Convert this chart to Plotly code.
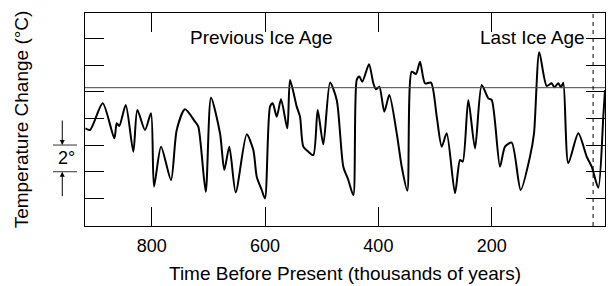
import plotly.graph_objects as go

# Time before present (thousands of years) and temperature change (deg C, ticks every 2 deg)
years = [917, 908.9, 886.5, 866.0, 861.8, 857.2, 845.9, 832.5, 825.4, 811.9,
         801.3, 796.0, 783.6, 766.0, 755.9, 741.3, 723.6, 717.8, 704.7, 695.4,
         679.5, 671.9, 663.1, 651.8, 632.4, 620.7, 614.7, 605.9, 600.1, 591.2,
         586.5, 579.4, 571.8, 560.7, 555.9, 544.1, 538.3, 532.5, 523.6, 514.8,
         507.1, 497.2, 485.3, 473.5, 461.9, 453.0, 444.2, 438.2, 433.6, 428.3,
         416.5, 408.9, 404.2, 398.3, 389.5, 380.7, 367.6, 358.8, 348.9, 341.2,
         333.6, 326.5, 317.7, 307.1, 297.0, 288.2, 279.4, 264.7, 255.9, 251.1,
         241.3, 229.4, 217.6, 206.0, 200.0, 185.3, 176.5, 164.7, 148.8, 132.4,
         125.3, 116.0, 102.9, 94.1, 89.5, 82.4, 77.7, 73.6, 64.8, 47.1,
         32.3, 23.5, 11.8, 3.0, 0.0]
temp = [-2.75, -2.87, -0.87, -3.50, -2.37, -2.57, -1.00, -4.50, -1.37, -2.87,
        -1.62, -7.12, -4.12, -6.62, -2.87, -1.32, -2.25, -2.62, -7.50, -0.45,
        -3.12, -5.87, -4.12, -7.55, -3.20, -4.37, -6.37, -7.37, -8.00, -1.12,
        -0.87, -1.87, -0.57, -2.75, 0.88, -1.12, -1.87, -4.12, -4.50, -4.75,
        -1.37, -3.95, 0.68, -0.62, -5.62, -6.62, -7.75, 0.88, 1.13, 0.75,
        2.06, 0.63, 0.18, 0.38, -1.50, -0.25, -3.12, -5.62, -7.42, 1.50,
        1.33, 2.25, 0.63, 0.68, -1.87, -4.12, -3.12, -7.62, -5.12, -5.25,
        -0.62, -4.25, 0.50, -0.50, -0.62, -5.62, -4.12, -3.82, -7.37, -4.87,
        -3.12, 2.96, 0.43, 0.63, 0.33, 0.63, 0.33, 0.68, -5.37, -3.12,
        -4.87, -5.62, -7.20, -1.87, 0.13]

x_ticks = [800, 600, 400, 200, 0]
x_tick_labels = ["800", "600", "400", "200", "0"]
y_ticks = [-8, -6, -4, -2, 0, 2, 4]
present_level = 0.3
dashed_year = 21
scale_low, scale_high = -6, -4

FONT = "Liberation Sans, Arial, Helvetica, sans-serif"

fig = go.Figure()
fig.add_trace(go.Scatter(
    x=years, y=temp, mode="lines",
    line=dict(color="black", width=2, shape="spline", smoothing=0.7),
    hoverinfo="skip", showlegend=False,
))

# present-day level
fig.add_shape(type="line", xref="paper", x0=0, x1=1, yref="y",
              y0=present_level, y1=present_level,
              line=dict(color="#444444", width=1))
# dashed vertical line
fig.add_shape(type="line", xref="x", x0=dashed_year, x1=dashed_year,
              yref="paper", y0=0, y1=1,
              line=dict(color="black", width=1, dash="4px,4px"))

# 2 degree scale marker in the left margin
for yv in (scale_low, scale_high):
    fig.add_shape(type="line", xref="paper", x0=-0.0615, x1=-0.0154,
                  yref="y", y0=yv, y1=yv,
                  line=dict(color="#333333", width=1))
fig.add_annotation(xref="paper", x=-0.0437, yref="y", y=scale_high,
                   text="", showarrow=True, arrowhead=2, arrowsize=1,
                   arrowwidth=1, arrowcolor="black", ax=0, ay=-26, standoff=0)
fig.add_annotation(xref="paper", x=-0.0437, yref="y", y=scale_low,
                   text="", showarrow=True, arrowhead=2, arrowsize=1,
                   arrowwidth=1, arrowcolor="black", ax=0, ay=26, standoff=0)
fig.add_annotation(xref="paper", x=-0.0365, xanchor="center",
                   yref="y", y=(scale_low + scale_high) / 2, yanchor="middle",
                   text="2°", showarrow=False,
                   font=dict(family=FONT, size=18, color="black"))

fig.add_annotation(xref="x", x=606, yref="y", y=4.1, text="Previous Ice Age",
                   showarrow=False, font=dict(family=FONT, size=19, color="black"))
fig.add_annotation(xref="x", x=128, yref="y", y=4.1, text="Last Ice Age",
                   showarrow=False, font=dict(family=FONT, size=19, color="black"))

fig.update_xaxes(
    range=[917.8, 0], tickvals=x_ticks, ticktext=x_tick_labels,
    ticks="inside", ticklen=19, tickwidth=1, tickcolor="black",
    showline=True, linecolor="black", linewidth=1, mirror="ticks",
    showgrid=False, zeroline=False, ticklabelstandoff=3,
    tickfont=dict(family=FONT, size=18, color="black"),
    title=dict(text="Time Before Present (thousands of years)",
               font=dict(family=FONT, size=19, color="black"), standoff=12),
)
fig.update_yaxes(
    range=[-10.07, 5.90], tickvals=y_ticks, showticklabels=False,
    ticks="inside", ticklen=19, tickwidth=1, tickcolor="black",
    showline=True, linecolor="black", linewidth=1, mirror="ticks",
    showgrid=False, zeroline=False,
    title=dict(text="Temperature Change (°C)",
               font=dict(family=FONT, size=19, color="black"), standoff=50),
)

fig.update_layout(
    width=610, height=286,
    margin=dict(l=85, r=5, t=13, b=60, autoexpand=False),
    plot_bgcolor="white", paper_bgcolor="white",
    font=dict(family=FONT, color="black"),
)

fig.write_html("out.html", config={"displayModeBar": False},
               post_script="document.body.style.margin='0';document.body.style.overflow='hidden';")
